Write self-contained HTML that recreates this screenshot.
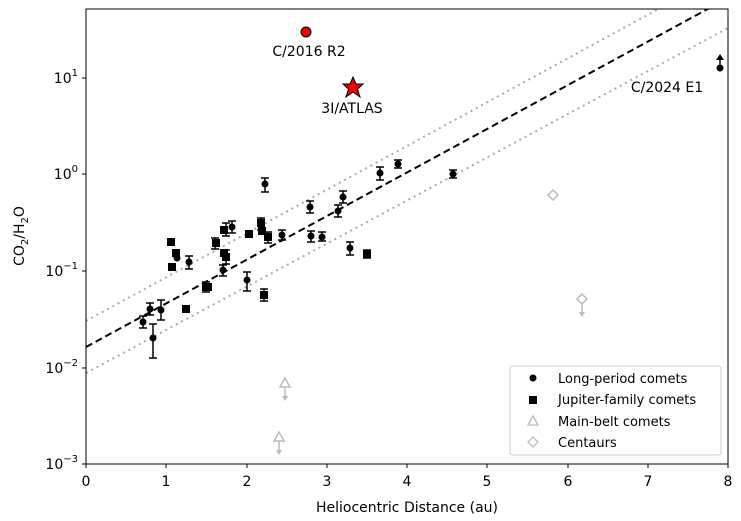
<!DOCTYPE html><html><head><style>body{margin:0;background:#fff}svg{display:block;font-family:"DejaVu Sans","Liberation Sans",sans-serif}</style></head><body>
<svg width="741" height="521" xmlns="http://www.w3.org/2000/svg">
<defs><clipPath id="c"><rect x="86" y="9" width="642" height="455"/></clipPath></defs>
<g clip-path="url(#c)">
<line x1="86" y1="321" x2="728" y2="-29" stroke="#aaa" stroke-width="2" stroke-dasharray="2,4"/>
<line x1="86" y1="373" x2="728" y2="28" stroke="#aaa" stroke-width="2" stroke-dasharray="2,4"/>
<line x1="86" y1="347" x2="728" y2="-2" stroke="#000" stroke-width="2" stroke-dasharray="7,4"/>
<g stroke="#000" stroke-width="1.5">
<path d="M143 316V328M139 316H147M139 328H147M150 303V315M146 303H154M146 315H154M161 300V320M157 300H165M157 320H165M153 324V358M149 324H157M149 358H157M189 256V269M185 256H193M185 269H193M232 221V233M228 221H236M228 233H236M247 272V291M243 272H251M243 291H251M265 178V192M261 178H269M261 192H269M310 201V213M306 201H314M306 213H314M343 191V203M339 191H347M339 203H347M338 205V217M334 205H342M334 217H342M350 242V255M346 242H354M346 255H354M380 167V180M376 167H384M376 180H384M398 160V168M394 160H402M394 168H402M453 170V178M449 170H457M449 178H457M226 223V236M222 223H230M222 236H230M215 238V249M211 238H219M211 249H219M264 289V301M260 289H268M260 301H268M226 250V264M222 250H230M222 264H230M261 218V230M257 218H265M257 230H265M206 282V292M202 282H210M202 292H210M311 231V242M307 231H315M307 242H315M322 232V241M318 232H326M318 241H326M367 250V258M363 250H371M363 258H371M282 230V240M278 230H286M278 240H286M268 232V243M264 232H272M264 243H272M223 265V276M219 265H227M219 276H227"/>
<path d="M720 68V57" /></g>
<path d="M716 60L720 54L724 60Z"/>
<g fill="#000">
<circle cx="143" cy="322" r="3.5"/><circle cx="150" cy="309" r="3.5"/><circle cx="161" cy="310" r="3.5"/><circle cx="153" cy="338" r="3.5"/><circle cx="177" cy="258" r="3.5"/><circle cx="189" cy="262" r="3.5"/><circle cx="223" cy="270" r="3.5"/><circle cx="232" cy="227" r="3.5"/><circle cx="247" cy="280" r="3.5"/><circle cx="265" cy="184" r="3.5"/><circle cx="282" cy="235" r="3.5"/><circle cx="268" cy="237" r="3.5"/><circle cx="310" cy="207" r="3.5"/><circle cx="311" cy="236" r="3.5"/><circle cx="322" cy="237" r="3.5"/><circle cx="338" cy="211" r="3.5"/><circle cx="343" cy="197" r="3.5"/><circle cx="350" cy="248" r="3.5"/><circle cx="380" cy="173" r="3.5"/><circle cx="398" cy="164" r="3.5"/><circle cx="453" cy="174" r="3.5"/><circle cx="720" cy="68" r="3.5"/>
<rect x="167" y="238" width="8" height="8"/><rect x="172" y="249" width="8" height="8"/><rect x="168" y="263" width="8" height="8"/><rect x="182" y="305" width="8" height="8"/><rect x="202" y="283" width="8" height="8"/><rect x="204" y="283" width="8" height="8"/><rect x="212" y="239" width="8" height="8"/><rect x="220" y="249" width="8" height="8"/><rect x="222" y="253" width="8" height="8"/><rect x="220" y="226" width="8" height="8"/><rect x="245" y="230" width="8" height="8"/><rect x="257" y="219" width="8" height="8"/><rect x="258" y="227" width="8" height="8"/><rect x="260" y="291" width="8" height="8"/><rect x="264" y="233" width="8" height="8"/><rect x="363" y="250" width="8" height="8"/>
</g>
<g stroke="#bbb" fill="none" stroke-width="1.5">
<path d="M285 378L290 387H280Z M279 432L284 441H274Z M553 190L558 195L553 200L548 195Z M582 294L587 299L582 304L577 299Z"/>
<path d="M285 387V398M279 441V452M582 304V314"/></g>
<g fill="#bbb"><path d="M282 396L285 401L288 396Z M276 450L279 455L282 450Z M579 312L582 317L585 312Z"/></g>
<circle cx="306" cy="32" r="5" fill="#e00" stroke="#000"/>
<path d="M353 77L356 84L363 84L357.5 89L360 97L353 92L346 97L348.5 89L343 84L350 84Z" fill="#e00" stroke="#000"/>
</g>
<rect x="86" y="9" width="642" height="455" fill="none" stroke="#000" stroke-width="1"/>
<g font-size="14" fill="#000">
<text x="309" y="56" text-anchor="middle">C/2016 R2</text>
<text x="352" y="113" text-anchor="middle">3I/ATLAS</text>
<text x="667" y="92" text-anchor="middle">C/2024 E1</text>
</g>
<g stroke="#000"><path d="M86 464v4M166 464v4M247 464v4M327 464v4M407 464v4M487 464v4M568 464v4M648 464v4M728 464v4M86 464h-4M86 368h-4M86 271h-4M86 174h-4M86 78h-4"/></g>
<g font-size="14" text-anchor="middle"><text x="86" y="486">0</text><text x="166" y="486">1</text><text x="247" y="486">2</text><text x="327" y="486">3</text><text x="407" y="486">4</text><text x="487" y="486">5</text><text x="568" y="486">6</text><text x="648" y="486">7</text><text x="728" y="486">8</text>
<text x="407" y="512">Heliocentric Distance (au)</text></g>
<g font-size="14" text-anchor="end"><text x="78" y="469">10<tspan font-size="10" dy="-7">−3</tspan></text><text x="78" y="373">10<tspan font-size="10" dy="-7">−2</tspan></text><text x="78" y="276">10<tspan font-size="10" dy="-7">−1</tspan></text><text x="78" y="179">10<tspan font-size="10" dy="-7">0</tspan></text><text x="78" y="83">10<tspan font-size="10" dy="-7">1</tspan></text></g>
<text transform="translate(24,236) rotate(-90)" font-size="14" text-anchor="middle">CO<tspan font-size="10" dy="4">2</tspan><tspan dy="-4">/H</tspan><tspan font-size="10" dy="4">2</tspan><tspan dy="-4">O</tspan></text>
<rect x="510" y="366" width="211" height="89" rx="3" fill="#fff" stroke="#ccc"/>
<g font-size="13"><circle cx="533" cy="378" r="3.5"/><text x="558" y="383">Long-period comets</text>
<rect x="529" y="396" width="8" height="8"/><text x="558" y="404">Jupiter-family comets</text>
<path d="M533 416L538 425H528Z" fill="none" stroke="#bbb" stroke-width="1.3"/><text x="558" y="426">Main-belt comets</text>
<path d="M533 437L538 442L533 447L528 442Z" fill="none" stroke="#bbb" stroke-width="1.3"/><text x="558" y="447">Centaurs</text></g>
</svg></body></html>
